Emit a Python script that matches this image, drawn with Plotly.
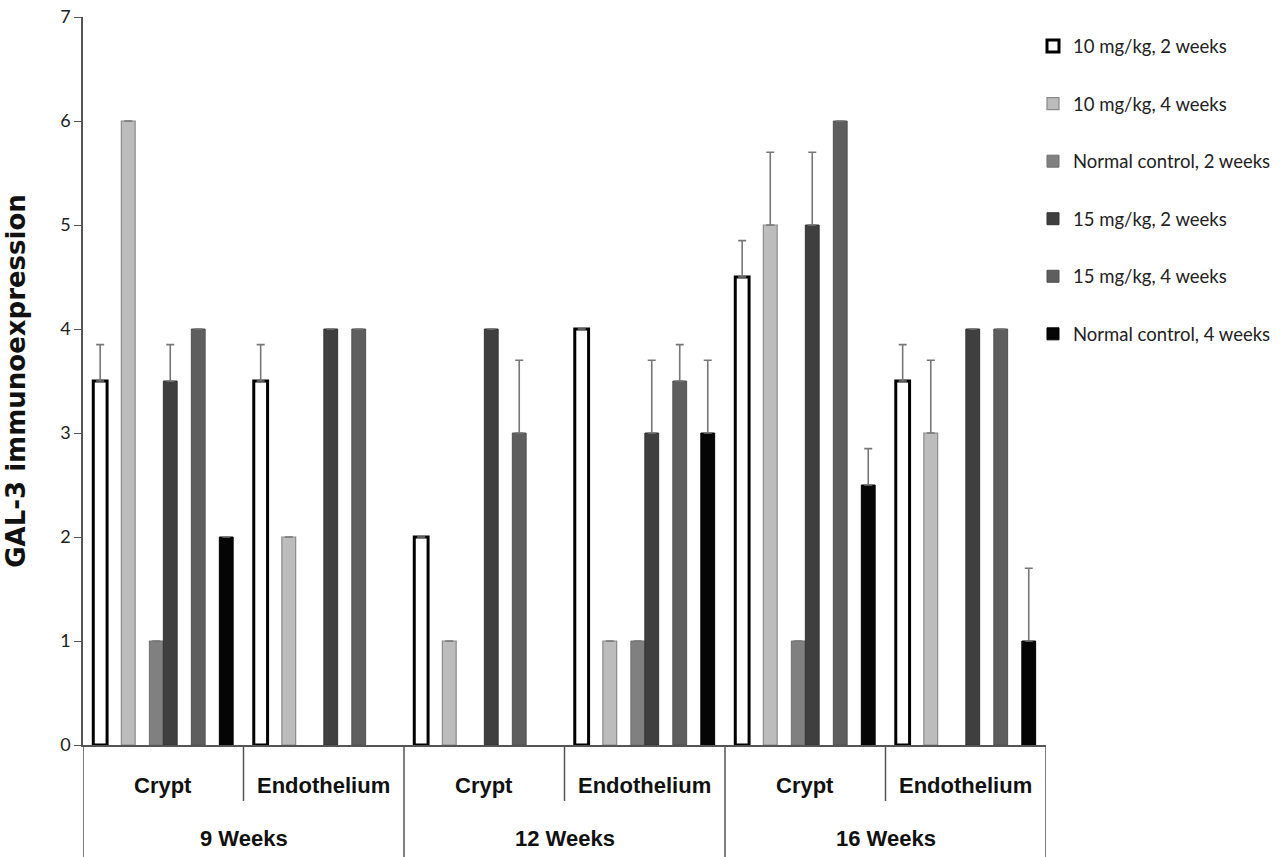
import plotly.graph_objects as go

# ---- data ----
weeks = ["9 Weeks", "9 Weeks", "12 Weeks", "12 Weeks", "16 Weeks", "16 Weeks"]
tissue = ["Crypt", "Endothelium", "Crypt", "Endothelium", "Crypt", "Endothelium"]
week_labels = ["9 Weeks", "12 Weeks", "16 Weeks"]

series_names = [
    "10 mg/kg, 2 weeks",
    "10 mg/kg, 4 weeks",
    "Normal control, 2 weeks",
    "15 mg/kg, 2 weeks",
    "15 mg/kg, 4 weeks",
    "Normal control, 4 weeks",
]

mg10_2w = [3.5, 3.5, 2, 4, 4.5, 3.5]
mg10_2w_err = [0.35, 0.35, 0, 0, 0.35, 0.35]
mg10_4w = [6, 2, 1, 1, 5, 3]
mg10_4w_err = [0, 0, 0, 0, 0.7, 0.7]
nc_2w = [1, None, None, 1, 1, None]
nc_2w_err = [0, 0, 0, 0, 0, 0]
mg15_2w = [3.5, 4, 4, 3, 5, 4]
mg15_2w_err = [0.35, 0, 0, 0.7, 0.7, 0]
mg15_4w = [4, 4, 3, 3.5, 6, 4]
mg15_4w_err = [0, 0, 0.7, 0.35, 0, 0]
nc_4w = [2, None, None, 3, 2.5, 1]
nc_4w_err = [0, 0, 0, 0.7, 0.35, 0.7]

values = [mg10_2w, mg10_4w, nc_2w, mg15_2w, mg15_4w, nc_4w]
errors = [mg10_2w_err, mg10_4w_err, nc_2w_err, mg15_2w_err, mg15_4w_err, nc_4w_err]

categories = [f"{w} | {t}" for w, t in zip(weeks, tissue)]

# ---- style ----
fills = ["#ffffff", "#bcbcbc", "#808080", "#3f3f3f", "#5e5e5e", "#050505"]
lines = ["#000000", "#8a8a8a", "#707070", "#333333", "#505050", "#000000"]
line_w = [3, 1.2, 1, 1, 1, 1]
centers = [-0.393, -0.218, -0.0436, 0.0436, 0.218, 0.3925]
bw = 0.086
AX = "#555555"

fig = go.Figure()
for i, name in enumerate(series_names):
    fig.add_trace(go.Bar(
        x=categories,
        y=values[i],
        name=name,
        legendgroup=f"g{i}",
        width=bw,
        offset=centers[i] - bw / 2,
        marker=dict(color=fills[i], line=dict(color=lines[i], width=line_w[i])),
        error_y=dict(type="data", symmetric=False, array=errors[i],
                     arrayminus=[0] * 6, color="#777777", thickness=1.6, width=4),
    ))

plot_h = 857 - 17 - 112  # pixel height of plot area


def py(px_below_axis):
    return -px_below_axis / plot_h


annotations = []
shapes = []
label_font = dict(family="Liberation Sans, Arial, sans-serif", size=22, color="#111111")
for i, t in enumerate(tissue):
    annotations.append(dict(x=i, y=py(40), xref="x", yref="paper", text=f"<b>{t}</b>",
                            showarrow=False, xanchor="center", yanchor="middle", font=label_font))
for j, w in enumerate(week_labels):
    annotations.append(dict(x=2 * j + 0.5, y=py(93), xref="x", yref="paper", text=f"<b>{w}</b>",
                            showarrow=False, xanchor="center", yanchor="middle", font=label_font))
# inner dividers
for j in range(3):
    shapes.append(dict(type="line", xref="x", yref="paper", x0=2 * j + 0.5, x1=2 * j + 0.5,
                       y0=0, y1=py(56), line=dict(color=AX, width=1.5)))
# outer dividers
for j in range(4):
    shapes.append(dict(type="line", xref="x", yref="paper", x0=2 * j - 0.5, x1=2 * j - 0.5,
                       y0=0, y1=py(115), line=dict(color=AX, width=1.5)))

fig.update_layout(
    width=1284, height=857,
    paper_bgcolor="white", plot_bgcolor="white",
    barmode="overlay",
    margin=dict(l=83, r=238, t=17, b=112, autoexpand=False),
    font=dict(family="Lato, Liberation Sans, sans-serif", color="#222222"),
    legend=dict(
        x=0.9865, xanchor="left", y=0.9855, yanchor="top",
        font=dict(family="Lato, sans-serif", size=18.5, color="#222222"),
        tracegroupgap=30.5, bgcolor="rgba(0,0,0,0)",
    ),
    showlegend=True,
    annotations=annotations,
    shapes=shapes,
)

fig.update_yaxes(
    range=[0, 7], dtick=1, showgrid=False, zeroline=False, automargin=False,
    showline=True, linecolor=AX, linewidth=1.5,
    ticks="outside", ticklen=7, tickcolor=AX,
    tickfont=dict(family="Lato, sans-serif", size=18, color="#222222"),
    title=dict(text="<b>GAL-3 immunoexpression</b>",
               font=dict(family="DejaVu Sans, sans-serif", size=26, color="#111111"),
               standoff=27),
)
fig.update_xaxes(
    range=[-0.5, 5.5], showgrid=False, zeroline=False, automargin=False,
    showline=True, linecolor=AX, linewidth=1.5,
    showticklabels=False, ticks="",
)

fig.write_html("out.html", config={"displayModeBar": False},
               post_script="document.body.style.margin='0';")
